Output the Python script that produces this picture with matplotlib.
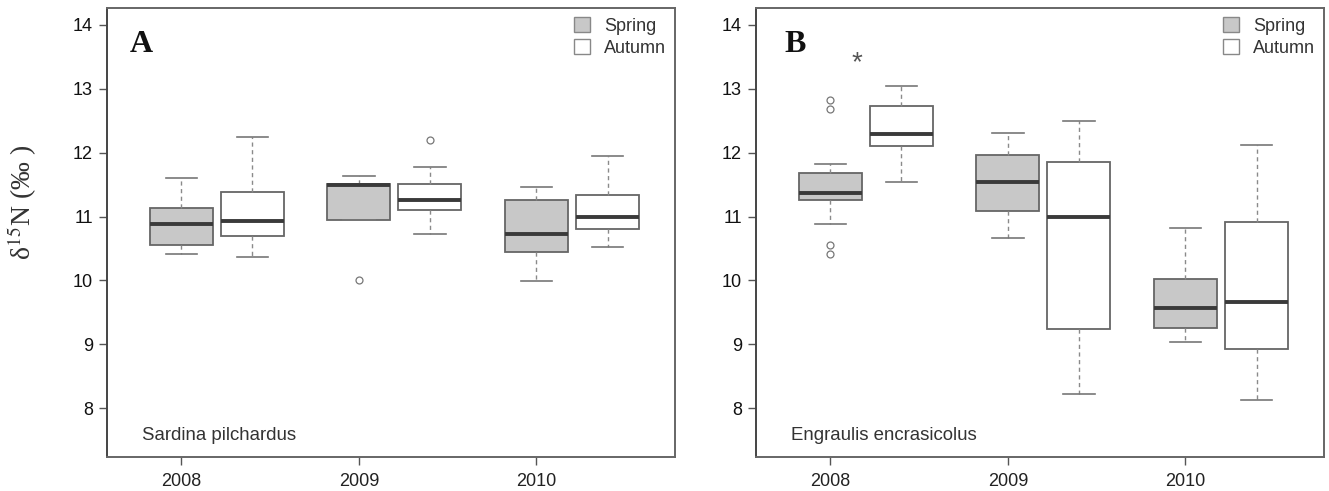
import matplotlib
matplotlib.use("Agg")
import matplotlib.pyplot as plt
from matplotlib.patches import Patch

plt.rcParams['font.family'] = ['Liberation Sans', 'DejaVu Sans']
plt.rcParams['mathtext.fontset'] = 'stix'

years = ["2008", "2009", "2010"]
seasons = ["Spring", "Autumn"]

# Panel A: Sardina pilchardus  (order: 2008 Sp, 2008 Au, 2009 Sp, 2009 Au, 2010 Sp, 2010 Au)
a_whislo = [10.42, 10.36, 10.94, 10.73, 9.99, 10.52]
a_q1     = [10.56, 10.70, 10.95, 11.10, 10.45, 10.80]
a_med    = [10.89, 10.93, 11.49, 11.26, 10.72, 10.99]
a_q3     = [11.13, 11.38, 11.51, 11.51, 11.26, 11.34]
a_whishi = [11.60, 12.25, 11.63, 11.78, 11.47, 11.94]
a_fliers = [[], [], [10.0], [12.20], [], []]

# Panel B: Engraulis encrasicolus
b_whislo = [10.88, 11.54, 10.67, 8.22, 9.03, 8.13]
b_q1     = [11.26, 12.10, 11.08, 9.24, 9.25, 8.93]
b_med    = [11.37, 12.29, 11.54, 11.00, 9.57, 9.66]
b_q3     = [11.68, 12.73, 11.97, 11.85, 10.02, 10.92]
b_whishi = [11.82, 13.05, 12.30, 12.49, 10.82, 12.12]
b_fliers = [[12.82, 12.69, 10.56, 10.41], [], [], [], [], []]

species = ["Sardina pilchardus", "Engraulis encrasicolus"]
panel_letters = ["A", "B"]
yticks = [8, 9, 10, 11, 12, 13, 14]
star_pos = (1.15, 13.40)

W, H = 1329, 491
fig = plt.figure(figsize=(W / 100, H / 100), dpi=100)

def px_axes(l, t, r, b):
    return fig.add_axes([l / W, 1 - b / H, (r - l) / W, (b - t) / H])

axA = px_axes(106.7, 8.3, 675, 456.7)
axB = px_axes(755.7, 8.3, 1324, 456.7)

fill = {"Spring": "#c8c8c8", "Autumn": "#ffffff"}
offset = 0.40
width = 0.355

def draw(ax, whislo, q1, med, q3, whishi, fliers, sp, letter, letter_x):
    stats = []
    positions = []
    colors = []
    i = 0
    for yi, y in enumerate(years):
        for si, s in enumerate(seasons):
            stats.append(dict(whislo=whislo[i], q1=q1[i], med=med[i], q3=q3[i],
                              whishi=whishi[i], fliers=fliers[i]))
            positions.append(yi + 1 + si * offset)
            colors.append(fill[s])
            i += 1
    bp = ax.bxp(stats, positions=positions, widths=width, patch_artist=True,
                showfliers=True, manage_ticks=False,
                boxprops=dict(edgecolor="#666666", linewidth=1.3),
                medianprops=dict(color="#3a3a3a", linewidth=2.8, solid_capstyle="butt"),
                whiskerprops=dict(color="#8a8a8a", linewidth=1.0, linestyle=(0, (3, 2.5))),
                capprops=dict(color="#777777", linewidth=1.2),
                flierprops=dict(marker="o", markersize=5, markerfacecolor="none",
                                markeredgecolor="#777777", markeredgewidth=0.9))
    for patch, c in zip(bp["boxes"], colors):
        patch.set_facecolor(c)
    ax.set_xlim(0.58, 3.78)
    ax.set_ylim(7.24, 14.26)
    ax.set_xticks([1, 2, 3])
    ax.set_xticklabels(years, fontsize=13, color="#222222")
    ax.set_yticks(yticks)
    ax.set_yticklabels([str(v) for v in yticks], fontsize=13, color="#111111")
    ax.tick_params(axis="both", length=6, width=1.0, color="#555555", pad=4)
    ax.tick_params(axis="x", pad=6)
    for sp_ in ax.spines.values():
        sp_.set_color("#666666")
        sp_.set_linewidth(1.4)
    ax.spines["left"].set_color("#444444")
    ax.text(0.0616, 0.048, sp, transform=ax.transAxes, fontsize=13.4,
            color="#333333", va="center", ha="left")
    ax.text(letter_x, 0.920, letter, transform=ax.transAxes, fontsize=23,
            fontweight="bold", family="Liberation Serif", va="center", ha="left",
            color="#111111")
    handles = [Patch(facecolor=fill[s], edgecolor="#888888", linewidth=1.0) for s in seasons]
    leg = ax.legend(handles, seasons, loc="upper right", frameon=False, fontsize=13,
                    handlelength=0.85, handleheight=0.85, handletextpad=0.8,
                    labelspacing=0.25, borderaxespad=0.2, borderpad=0.3)
    for t in leg.get_texts():
        t.set_color("#333333")

draw(axA, a_whislo, a_q1, a_med, a_q3, a_whishi, a_fliers, species[0], panel_letters[0], 0.041)
draw(axB, b_whislo, b_q1, b_med, b_q3, b_whishi, b_fliers, species[1], panel_letters[1], 0.050)

axB.text(star_pos[0], star_pos[1], "*", fontsize=20, color="#555555",
         ha="center", va="center")

fig.text(22 / W, 1 - 202 / H, "δ$^{15}$N (‰ )", rotation=90, fontsize=20,
         family="Liberation Serif", va="center", ha="center", color="#333333")

fig.savefig("out.png", dpi=100)
